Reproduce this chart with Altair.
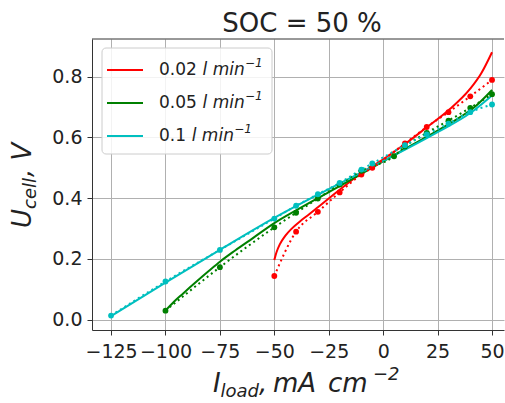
import altair as alt
import pandas as pd

flows = ["0.02", "0.05", "0.1"]
colors = ["#ff0000", "#008000", "#00bfbf"]

# model (solid) curves
model_x_002 = [-50, -49, -47.5, -45, -42, -38, -34, -30, -20, -10, 0, 10, 20, 30, 40, 45, 50]
model_y_002 = [0.197, 0.222, 0.248, 0.276, 0.3, 0.325, 0.347, 0.37, 0.428, 0.482, 0.528, 0.578, 0.633, 0.689, 0.76, 0.81, 0.88]
model_x_005 = [-100, -96, -92, -86, -80, -75, -68, -60, -50, -40, -25, -10, 0, 10, 25, 35, 42, 50]
model_y_005 = [0.03, 0.06, 0.086, 0.124, 0.161, 0.191, 0.228, 0.268, 0.318, 0.36, 0.42, 0.48, 0.521, 0.562, 0.622, 0.665, 0.7, 0.756]
model_x_01 = [-125, -100, -75, -50, -25, 0, 25, 40, 50]
model_y_01 = [0.012, 0.122, 0.23, 0.335, 0.43, 0.522, 0.617, 0.68, 0.738]

# experimental (dotted + markers)
exp_x_002 = [-50, -40, -30, -20, -10, -5, 10, 20, 30, 40, 50]
exp_y_002 = [0.144, 0.29, 0.355, 0.419, 0.478, 0.5, 0.58, 0.634, 0.683, 0.735, 0.789]
exp_x_005 = [-100, -75, -50, -40, -30, -20, -10, 5, 10, 20, 30, 40, 50]
exp_y_005 = [0.03, 0.173, 0.304, 0.352, 0.399, 0.445, 0.49, 0.538, 0.57, 0.615, 0.655, 0.697, 0.742]
exp_x_01 = [-125, -100, -75, -50, -40, -30, -20, -10, -5, 10, 20, 30, 40, 50]
exp_y_01 = [0.014, 0.126, 0.23, 0.333, 0.375, 0.413, 0.45, 0.494, 0.514, 0.574, 0.61, 0.645, 0.683, 0.708]

x_ticks = [-125, -100, -75, -50, -25, 0, 25, 50]
y_ticks = [0.0, 0.2, 0.4, 0.6, 0.8]
title_text = "SOC = 50 %"
unit_text = "l min"
unit_sup = "\u22121"

W, H = 412, 291
FONT = "DejaVu Sans"
TXT = "#222222"
AX = "#333333"


def frame(flow, xs, ys):
    return pd.DataFrame({"flow": flow, "x": xs, "y": ys})


model_df = pd.concat([
    frame(flows[0], model_x_002, model_y_002),
    frame(flows[1], model_x_005, model_y_005),
    frame(flows[2], model_x_01, model_y_01),
], ignore_index=True)
exp_df = pd.concat([
    frame(flows[0], exp_x_002, exp_y_002),
    frame(flows[1], exp_x_005, exp_y_005),
    frame(flows[2], exp_x_01, exp_y_01),
], ignore_index=True)

color = alt.Color("flow:N", scale=alt.Scale(domain=flows, range=colors), legend=None)
xenc = alt.X("x:Q", scale=alt.Scale(domain=[-133.75, 55.5], nice=False, zero=False),
             axis=alt.Axis(values=x_ticks, title=None, grid=True, gridColor="#b0b0b0", gridWidth=1,
                           tickSize=5, tickColor=AX, domainColor=AX, labelFontSize=19, labelFont=FONT,
                           labelColor=TXT, labelPadding=7, labelFlush=False, labelOverlap=False))
yenc = alt.Y("y:Q", scale=alt.Scale(domain=[-0.0335, 0.9235], nice=False, zero=False),
             axis=alt.Axis(values=y_ticks, format=".1f", title=None, grid=True, gridColor="#b0b0b0",
                           gridWidth=1, tickSize=5, tickColor=AX, domainColor=AX, labelFontSize=19,
                           labelFont=FONT, labelColor=TXT, labelPadding=5, labelFlush=False))

model = alt.Chart(model_df).mark_line(strokeWidth=2, interpolate="monotone").encode(
    x=xenc, y=yenc, color=color, detail="flow:N")
exp_line = alt.Chart(exp_df).mark_line(strokeWidth=2, strokeDash=[2, 3.3], interpolate="monotone").encode(
    x="x:Q", y="y:Q", color=color, detail="flow:N")
exp_pts = alt.Chart(exp_df).mark_circle(size=34, opacity=1).encode(x="x:Q", y="y:Q", color=color)

one = pd.DataFrame({"k": [0]})
top_border = alt.Chart(one).mark_rule(color=AX, strokeWidth=1).encode(
    x=alt.value(0), x2=alt.value(W), y=alt.value(0))

main = alt.layer(model, exp_line, exp_pts, top_border)

# legend
leg_df = pd.DataFrame({"flow": flows})
ly = alt.Y("flow:N", scale=alt.Scale(type="point", domain=flows, range=[31, 97], padding=0), axis=None)
leg_box = alt.Chart(one).mark_rect(fill="white", fillOpacity=0.85, stroke="#cccccc", strokeWidth=1,
                                   cornerRadius=4).encode(
    x=alt.value(10), x2=alt.value(180), y=alt.value(9), y2=alt.value(115))
leg_rule = alt.Chart(leg_df).mark_rule(strokeWidth=2).encode(
    x=alt.value(15), x2=alt.value(51), y=ly, color=color)
leg_num = alt.Chart(leg_df).mark_text(align="left", baseline="middle", fontSize=17, font=FONT,
                                      color=TXT).encode(x=alt.value(67), y=ly, text="flow:N")
leg_unit = alt.Chart(leg_df).transform_calculate(
    ux="67.3 + (length(datum.flow) - 1) * 10.81 + 10.8", unit=f"'{unit_text}'"
).mark_text(align="left", baseline="middle", fontSize=17, font=FONT, fontStyle="italic",
            color=TXT).encode(x=alt.X("ux:Q", scale=None, axis=None), y=ly, text="unit:N")
leg_sup = alt.Chart(leg_df).transform_calculate(
    sx="67.3 + (length(datum.flow) - 1) * 10.81 + 10.8 + 42.5", sup=f"'{unit_sup}'"
).mark_text(align="left", baseline="middle", fontSize=12, font=FONT, fontStyle="italic",
            color=TXT, dy=-7).encode(x=alt.X("sx:Q", scale=None, axis=None), y=ly, text="sup:N")
legend = alt.layer(leg_box, leg_rule, leg_num, leg_unit, leg_sup)


def label(txt, x, y, size, angle=0, italic=True, align="left"):
    kw = dict(align=align, baseline="alphabetic", fontSize=size, font=FONT, color=TXT)
    if italic:
        kw["fontStyle"] = "italic"
    if angle:
        kw["angle"] = angle
    return alt.Chart(one).mark_text(**kw).encode(x=alt.value(x), y=alt.value(y), text=alt.value(txt))


title = label(title_text, 210, -7, 26, italic=False, align="center")

xtitle = alt.layer(
    label("I", 121, 353, 26),
    label("load", 128.5, 358, 18),
    label(",", 167, 353, 26),
    label("mA", 181, 353, 26),
    label("cm", 236, 353, 26),
    label("\u22122", 281, 341, 18),
)
ytitle = alt.layer(
    label("U", -61, 189, 26, 270),
    label("cell", -56, 170, 18, 270),
    label(", V", -61, 138, 26, 270),
)

chart = alt.layer(main, legend, xtitle, ytitle, title).resolve_scale(y="independent").properties(
    width=W, height=H,
    padding={"left": 92, "top": 39, "right": 1, "bottom": 73},
    autosize=alt.AutoSizeParams(type="none"),
).configure_view(stroke=None)

chart.save("out.html", embed_options={"renderer": "svg", "actions": False})
